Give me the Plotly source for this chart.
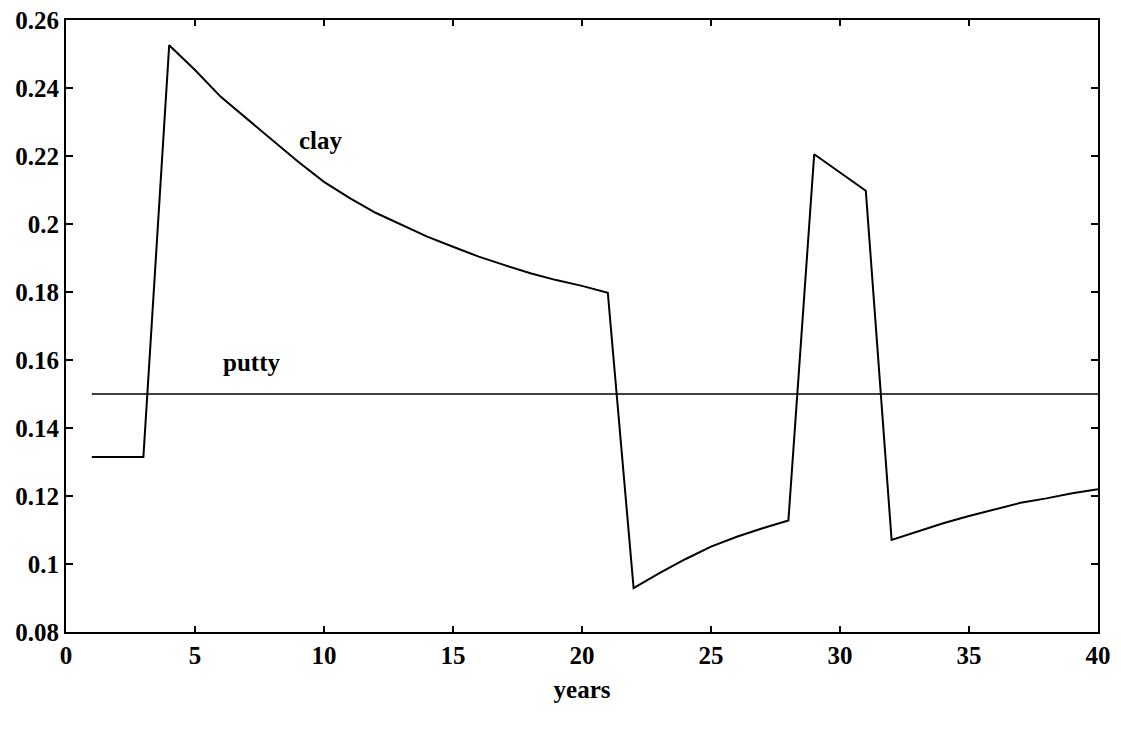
import plotly.graph_objects as go

years = list(range(1, 41))
clay = [0.1315, 0.1315, 0.1315, 0.2526, 0.2453, 0.2374, 0.2311, 0.2247, 0.2183, 0.2124,
        0.2076, 0.2033, 0.1997, 0.1963, 0.1933, 0.1904, 0.1879, 0.1855, 0.1835, 0.1818,
        0.1798, 0.0929, 0.0973, 0.1014, 0.1051, 0.1080, 0.1105, 0.1128, 0.2205, 0.2151,
        0.2098, 0.1071, 0.1095, 0.1120, 0.1141, 0.1161, 0.1180, 0.1193, 0.1208, 0.1220]
putty = [0.150] * 40

x_ticks = [0, 5, 10, 15, 20, 25, 30, 35, 40]
y_ticks = [0.08, 0.10, 0.12, 0.14, 0.16, 0.18, 0.20, 0.22, 0.24, 0.26]
y_tick_text = ["0.08", "0.1", "0.12", "0.14", "0.16", "0.18", "0.2", "0.22", "0.24", "0.26"]

FONT = "Liberation Serif"
TF = dict(family=FONT, size=25, color="black", weight="bold")
LF = dict(family=FONT, size=25, color="black", weight="bold")

fig = go.Figure()
fig.add_trace(go.Scatter(x=years, y=putty, mode="lines", name="putty",
                         line=dict(color="black", width=1.4)))
fig.add_trace(go.Scatter(x=years, y=clay, mode="lines", name="clay",
                         line=dict(color="black", width=2)))

fig.add_annotation(x=9.88, y=0.2247, xref="x", yref="y", text="clay", showarrow=False, font=LF)
fig.add_annotation(x=7.2, y=0.1594, xref="x", yref="y", text="putty", showarrow=False, font=LF)

# the page body adds an 8px offset, so size the figure to land the plot area where the reference has it
fig.update_layout(
    width=1113, height=721,
    margin=dict(l=58, r=23, t=12, b=97),
    paper_bgcolor="white", plot_bgcolor="white",
    showlegend=False,
    font=TF,
    xaxis=dict(range=[0, 40], tickvals=x_ticks, ticks="inside", ticklen=6, tickwidth=1.5,
               tickcolor="black", showgrid=False, zeroline=False, showline=True,
               linecolor="black", linewidth=2, mirror="ticks", automargin=False,
               ticklabeloverflow="allow", tickfont=TF,
               title=dict(text="years", standoff=12, font=LF)),
    yaxis=dict(range=[0.08, 0.26], tickvals=y_ticks, ticktext=y_tick_text, ticks="inside",
               ticklen=7, tickwidth=1.5, tickcolor="black", showgrid=False, zeroline=False,
               showline=True, linecolor="black", linewidth=2, mirror="ticks", automargin=False,
               ticklabeloverflow="allow", tickfont=TF),
)

fig.write_html("out.html")
